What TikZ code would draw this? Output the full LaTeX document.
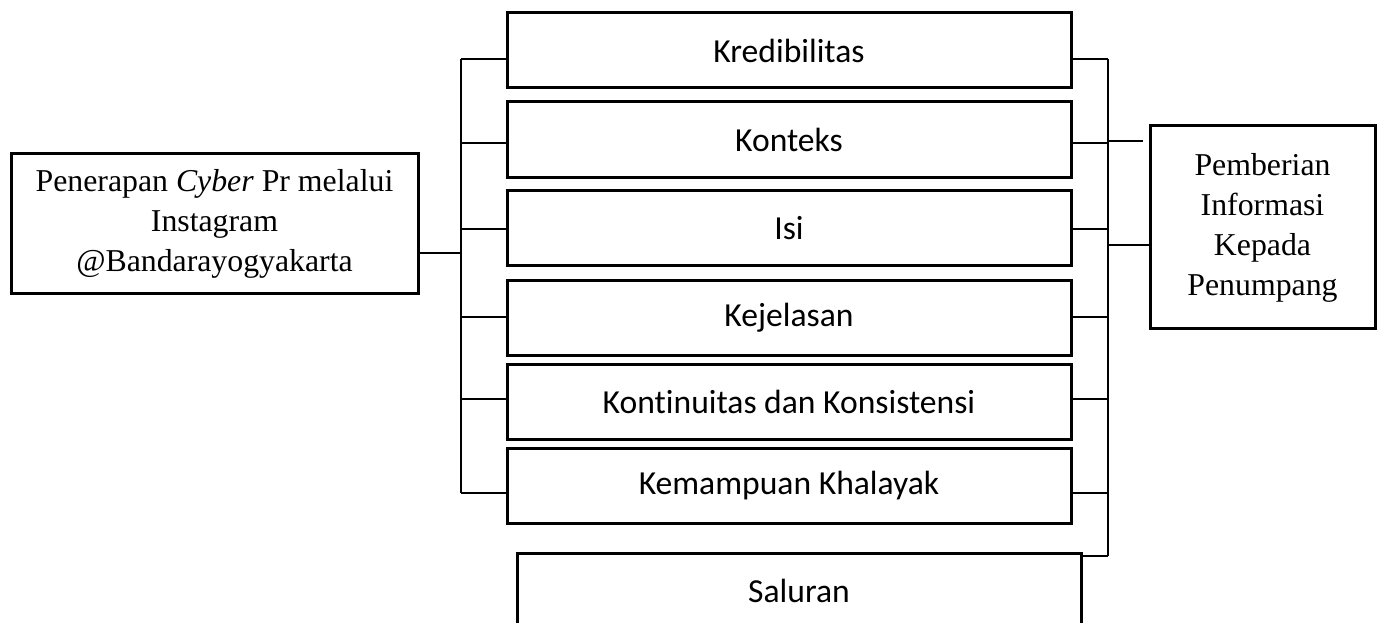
\documentclass[tikz,border=0pt]{standalone}
\usepackage{fontspec}
\setmainfont{Liberation Serif}
\newfontfamily\calib[Ligatures=NoCommon]{Carlito}
\begin{document}
\begin{tikzpicture}[x=1pt,y=-1pt,
  midbox/.style={draw,line width=3pt,minimum width=564pt,minimum height=75pt,inner sep=0pt,
    font=\calib\fontsize{33.6}{40}\selectfont},
  sidebox/.style={draw,line width=3pt,inner sep=0pt,align=center,
    font=\fontsize{31.8}{40}\selectfont},
  conn/.style={line width=1.5pt}]
\useasboundingbox (0,0) rectangle (1384,623);
\node[sidebox,minimum width=407pt,minimum height=139pt] (L) at (214.5,223.5)
  {\raisebox{-4pt}{\begin{tabular}{@{}c@{}}Penerapan \textit{Cyber} Pr melalui\\Instagram\\@Bandarayogyakarta\end{tabular}}};
\node[sidebox,minimum width=225pt,minimum height=202pt] (R) at (1262.5,227)
  {\raisebox{-7pt}{\begin{tabular}{@{}c@{}}Pemberian\\Informasi\\Kepada\\Penumpang\end{tabular}}};
\node[midbox] (b1) at (789,50.5) {Kredibilitas};
\node[midbox] (b2) at (789,139.5) {Konteks};
\node[midbox] (b3) at (789,228) {Isi};
\node[midbox] (b4) at (789,317.5) {Kejelasan};
\node[midbox] (b5) at (789,401.5) {Kontinuitas dan Konsistensi};
\node[midbox] (b6) at (789,485.5) {Kemampuan Khalayak};
\node[midbox] (sal) at (799,590.5) {Saluran};
% left bracket
\coordinate (lt) at (461,59);
\coordinate (lb) at (461,493);
\coordinate (lm) at (461,253);
\draw[conn] (L.east |- lm) -- (lm);
\draw[conn] (lt) -- (lb);
\draw[conn] (lt) -- (b1.west |- lt);
\foreach \n/\y in {b2/143,b3/229,b4/317,b5/399,b6/493}
  \draw[conn] (461,\y) -- (\n.west |- 0,\y);
% right bracket
\coordinate (rt) at (1108,59);
\coordinate (rb) at (1108,556);
\draw[conn] (rt) -- (rb);
\draw[line width=2.2pt] (1108,141) -- (1108,493);
\foreach \n/\y in {b1/59,b2/143,b3/229,b4/317,b5/399,b6/493}
  \draw[conn] (\n.east |- 0,\y) -- (1108,\y);
\draw[conn] (rb) -- (sal.east |- rb);
\coordinate (rgap) at (1143,141);
\draw[conn] (1108,141) -- (rgap);
\draw[conn] (1108,245) -- (R.west |- 0,245);
\end{tikzpicture}
\end{document}
